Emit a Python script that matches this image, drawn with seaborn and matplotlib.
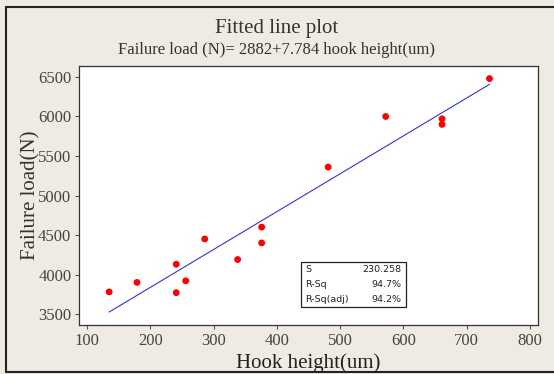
import matplotlib
matplotlib.use("Agg")
import matplotlib.pyplot as plt
import matplotlib.lines as mlines
import seaborn as sns
import numpy as np
import pandas as pd

# data
hook_height = [135, 179, 241, 241, 256, 286, 338, 376, 376, 481, 572, 661, 661, 736]
failure_load = [3780, 3900, 4130, 3770, 3920, 4450, 4190, 4600, 4400, 5360, 6000, 5970, 5900, 6480]
x_ticks = [100, 200, 300, 400, 500, 600, 700, 800]
y_ticks = [3500, 4000, 4500, 5000, 5500, 6000, 6500]
stat_names = ["S", "R-Sq", "R-Sq(adj)"]
stat_values = ["230.258", "94.7%", "94.2%"]

df = pd.DataFrame({"hook": hook_height, "load": failure_load})

sns.set_style("ticks")
plt.rcParams["font.family"] = ["Liberation Serif", "DejaVu Serif"]

bg = "#efebe2"
fig = plt.figure(figsize=(5.54, 3.74), dpi=100, facecolor=bg)
ax = fig.add_axes([0.1426, 0.131, 0.8284, 0.6925])
ax.set_facecolor("white")

sns.regplot(data=df, x="hook", y="load", ci=None, ax=ax,
            scatter_kws=dict(color="red", s=24, edgecolor="none", alpha=1, zorder=3),
            line_kws=dict(color="#3333ee", lw=0.8))

ax.set_xlim(87.4, 812.6)
ax.set_ylim(3361, 6639)
ax.set_xticks(x_ticks)
ax.set_yticks(y_ticks)
ax.tick_params(direction="out", length=3, width=0.8, color="#555555",
               labelsize=12, labelcolor="#444444", pad=2.5)
for sp in ax.spines.values():
    sp.set_color("#333333")
    sp.set_linewidth(0.9)

ax.set_xlabel("Hook height(um)", fontsize=15, color="#222222", labelpad=3.5)
ax.set_ylabel("Failure load(N)", fontsize=15, color="#333333", labelpad=-2)

fig.text(0.5, 0.925, "Fitted line plot", ha="center", va="center",
         fontsize=15, color="#333333")
fig.text(0.5, 0.866, "Failure load (N)= 2882+7.784 hook height(um)",
         ha="center", va="center", fontsize=12, color="#333333")

# summary box
bx0, by0, bx1, by1 = 301 / 554, 1 - 307 / 374, 406 / 554, 1 - 262 / 374
fig.patches.append(plt.Rectangle((bx0, by0), bx1 - bx0, by1 - by0,
                                 transform=fig.transFigure, facecolor="white",
                                 edgecolor="#222222", lw=0.9, zorder=5))
row_h = (by1 - by0) / 3
for i, (n, v) in enumerate(zip(stat_names, stat_values)):
    yy = by1 - row_h * (i + 0.5)
    fig.text(bx0 + 0.008, yy, n, ha="left", va="center", fontsize=6.8,
             family="DejaVu Sans", color="#222222", zorder=6)
    fig.text(bx1 - 0.008, yy, v, ha="right", va="center", fontsize=6.8,
             family="DejaVu Sans", color="#222222", zorder=6)

# outer frame
for xs, ys in [([6 / 554, 6 / 554], [2 / 374, 367 / 374]),
               ([6 / 554, 1], [367 / 374, 367 / 374]),
               ([6 / 554, 1], [2 / 374, 2 / 374])]:
    fig.lines.append(mlines.Line2D(xs, ys, transform=fig.transFigure,
                                   color="#222222", lw=1.5))

fig.savefig("out.png", dpi=100, facecolor=bg)
